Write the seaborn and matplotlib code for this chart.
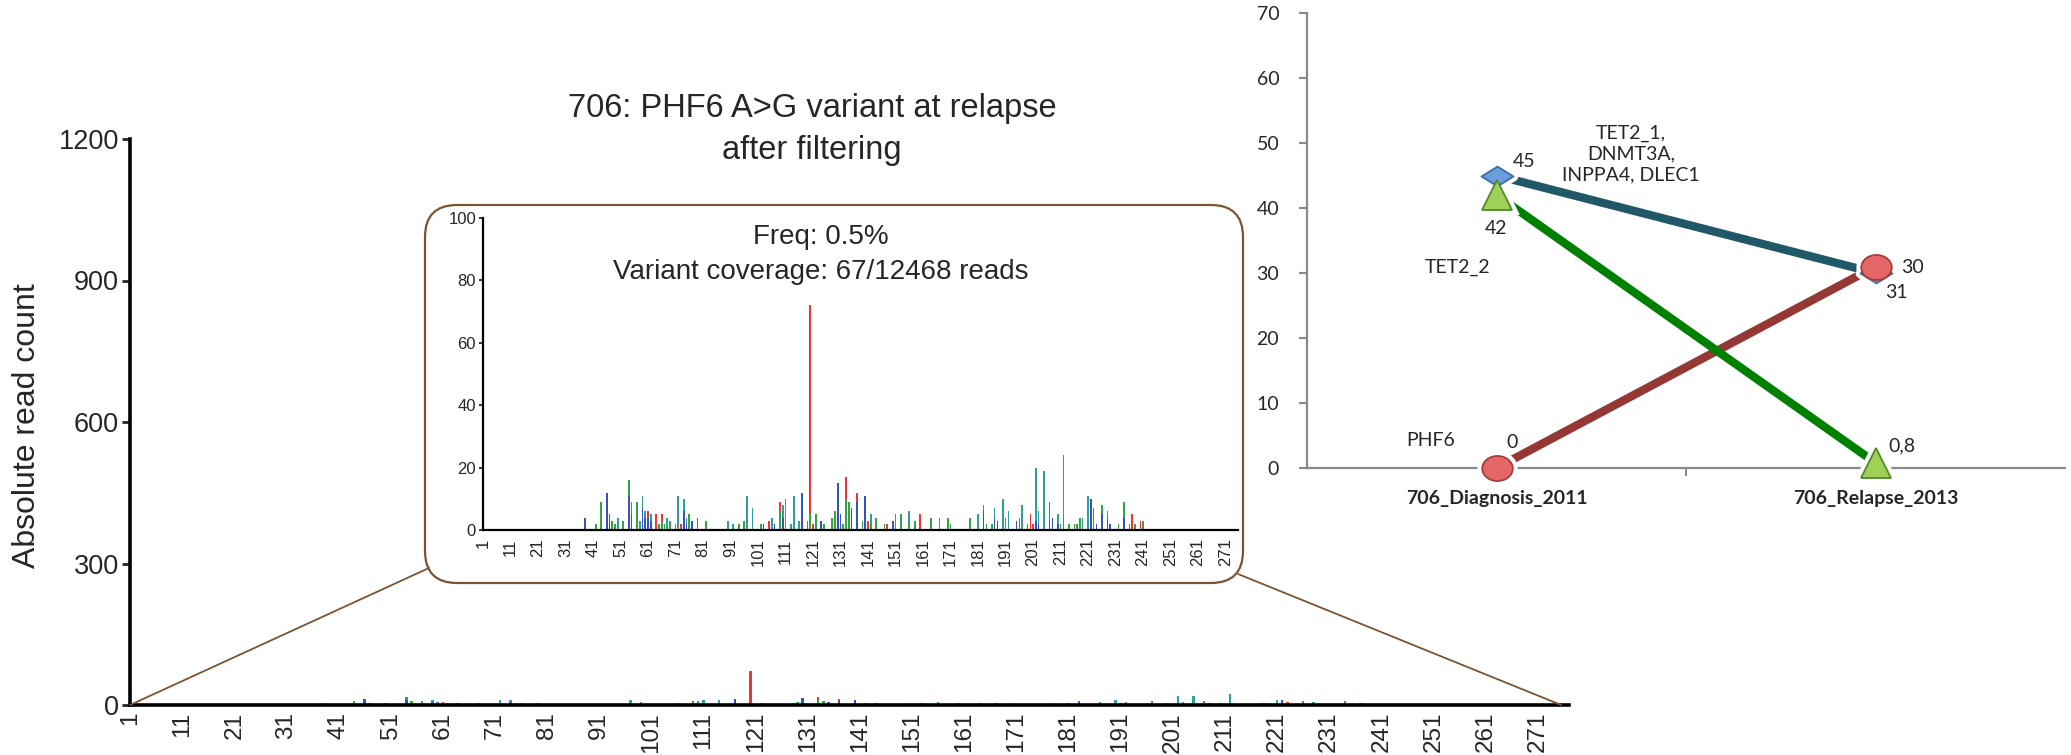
import numpy as np
import pandas as pd
import matplotlib
matplotlib.use("Agg")
import matplotlib.pyplot as plt
import seaborn as sns
from matplotlib.patches import FancyBboxPatch, ConnectionPatch
from matplotlib.path import Path
from matplotlib.transforms import Affine2D

# ---------------------------------------------------------------- data
# Per-base read counts along the PHF6 amplicon (after filtering)
pos_A = [42, 44, 48, 49, 52, 54, 55, 57, 65, 66, 67, 69, 76, 82, 94, 96, 102, 109, 120, 122,
         125, 128, 129, 132, 133, 134, 139, 142, 144, 147, 153, 156, 158, 164, 167, 170, 171,
         178, 183, 184, 186, 191, 196, 207, 211, 212, 214, 216, 217, 218, 223, 226, 232, 234,
         236, 238, 241]
cnt_A = [2, 9, 3, 2, 3, 5, 4, 9, 2, 3, 2, 3, 5, 3, 2, 3, 2, 6, 5, 5,
         2, 4, 6, 2, 10, 9, 3, 2, 4, 2, 5, 2, 3, 4, 4, 4, 2,
         4, 2, 2, 2, 4, 4, 3, 2, 5, 2, 2, 2, 4, 3, 3, 2, 5,
         2, 2, 3]

pos_C = [38, 46, 47, 54, 55, 59, 60, 61, 62, 74, 75, 77, 103, 107, 110, 117, 124, 130, 131,
         135, 137, 140, 150, 183, 187, 188, 195, 202, 203, 207, 208, 210, 222, 224, 226, 228,
         229, 234]
cnt_C = [4, 12, 5, 11, 5, 7, 4, 4, 3, 6, 2, 3, 2, 2, 4, 12, 3, 15, 5,
         7, 9, 11, 3, 6, 4, 3, 3, 3, 2, 3, 4, 2, 10, 2, 5, 4,
         2, 4]

pos_G = [61, 64, 66, 73, 79, 105, 109, 119, 120, 121, 133, 137, 141, 148, 160, 199, 200, 201,
         207, 223, 237, 240]
cnt_G = [2, 5, 2, 2, 4, 3, 3, 3, 67, 2, 7, 3, 3, 2, 5, 2, 5, 2,
         3, 4, 5, 3]

pos_T = [50, 58, 59, 60, 62, 68, 71, 72, 74, 75, 90, 92, 97, 99, 106, 110, 111, 113, 114, 116,
         142, 151, 156, 181, 187, 190, 192, 197, 202, 203, 205, 210, 212, 219, 221, 228]
cnt_T = [4, 3, 4, 2, 2, 4, 2, 11, 4, 2, 3, 2, 11, 7, 4, 4, 10, 2, 11, 3,
         3, 5, 4, 5, 3, 10, 6, 8, 17, 4, 19, 3, 19, 4, 11, 2]

position_ticks = list(range(1, 272, 10))
main_yticks = [0, 300, 600, 900, 1200]
inset_yticks = [0, 20, 40, 60, 80, 100]

# Clonal VAF (%) at diagnosis and relapse
timepoints = ["706_Diagnosis_2011", "706_Relapse_2013"]
vaf_tet2_1 = [45, 30]      # TET2_1, DNMT3A, INPPA4, DLEC1
vaf_tet2_2 = [42, 0.8]
vaf_phf6 = [0, 31]
vaf_labels_tet2_1 = ["45", "30"]
vaf_labels_tet2_2 = ["42", "0,8"]
vaf_labels_phf6 = ["0", "31"]
vaf_yticks = list(range(0, 71, 10))

# ---------------------------------------------------------------- style
sns.set_style("ticks")
plt.rcParams["font.family"] = ["Liberation Sans", "DejaVu Sans"]

base_colors = {"A": "#35a345", "C": "#3553c0", "G": "#f03535", "T": "#2f9f9b"}
stack_order = ["G", "T", "A", "C"]   # last level sits at the bottom of the stack

reads = pd.concat([
    pd.DataFrame({"position": pos_A, "reads": cnt_A, "base": "A"}),
    pd.DataFrame({"position": pos_C, "reads": cnt_C, "base": "C"}),
    pd.DataFrame({"position": pos_G, "reads": cnt_G, "base": "G"}),
    pd.DataFrame({"position": pos_T, "reads": cnt_T, "base": "T"}),
], ignore_index=True)

W, H = 2071, 755
fig = plt.figure(figsize=(W / 100, H / 100), dpi=100)
fig.patch.set_facecolor("white")


def px_rect(x0, y0, x1, y1):
    """Pixel box (top-left origin) -> figure-fraction rect."""
    return [x0 / W, 1 - y1 / H, (x1 - x0) / W, (y1 - y0) / H]


def coverage_bars(ax, shrink):
    sns.histplot(data=reads, x="position", weights="reads", hue="base",
                 hue_order=stack_order, palette=base_colors, multiple="stack",
                 discrete=True, shrink=shrink, alpha=1, linewidth=0,
                 legend=False, ax=ax)
    ax.set_xlabel("")
    ax.set_ylabel("")


# ---------------------------------------------------------------- main panel
ax = fig.add_axes(px_rect(130, 139, 1569, 705))
coverage_bars(ax, 0.45)
ax.set_xlim(1, 277)
ax.set_ylim(0, 1200)
ax.set_facecolor("none")
sns.despine(ax=ax)
for s in ("left", "bottom"):
    ax.spines[s].set_linewidth(2.6)
    ax.spines[s].set_color("black")
ax.set_xticks(position_ticks)
ax.set_xticklabels([str(p) for p in position_ticks], rotation=90, fontsize=17.5)
ax.set_yticks(main_yticks)
ax.set_yticklabels([str(v) for v in main_yticks], fontsize=19.5)
ax.tick_params(axis="x", length=0, pad=5)
ax.tick_params(axis="y", length=6, width=2, pad=2)
ax.set_ylabel("Absolute read count", fontsize=23)
ax.yaxis.set_label_coords(-0.061, 0.493)

# ---------------------------------------------------------------- zoom box
overlay = fig.add_axes([0, 0, 1, 1])
overlay.set_xlim(0, W)
overlay.set_ylim(H, 0)
overlay.axis("off")
box_x0, box_y0, box_x1, box_y1 = 425, 205, 1243, 583
overlay.add_patch(FancyBboxPatch((box_x0, box_y0), box_x1 - box_x0, box_y1 - box_y0,
                                 boxstyle="round,pad=0,rounding_size=32",
                                 facecolor="white", edgecolor="#7a5433", linewidth=1.6))

inset = fig.add_axes(px_rect(483, 218, 1238, 530))
coverage_bars(inset, 0.6)
inset_xmax = 275.5
inset.set_xlim(1, inset_xmax)
inset.set_ylim(0, 100)
inset.set_facecolor("none")
sns.despine(ax=inset)
for s in ("left", "bottom"):
    inset.spines[s].set_linewidth(1.6)
    inset.spines[s].set_color("black")
inset.set_xticks(position_ticks)
inset.set_xticklabels([str(p) for p in position_ticks], rotation=90, fontsize=12)
inset.set_yticks(inset_yticks)
inset.set_yticklabels([str(v) for v in inset_yticks], fontsize=12)
inset.tick_params(axis="x", length=0, pad=6)
inset.tick_params(axis="y", length=3, width=1.3, pad=2)

# zoom connectors from the main baseline to the box corners
for xa, xyb in ((1, (429, 568)), (inset_xmax, (1238, 574))):
    con = ConnectionPatch(xyA=(xa, 0), coordsA=ax.transData,
                          xyB=xyb, coordsB=overlay.transData,
                          color="#7a5433", linewidth=1.3)
    fig.add_artist(con)

fig.text(812 / W, 1 - 108 / H, "706: PHF6 A>G variant at relapse",
         ha="center", va="center", fontsize=23.5)
fig.text(812 / W, 1 - 150 / H, "after filtering", ha="center", va="center", fontsize=23.5)
fig.text(821 / W, 1 - 237 / H, "Freq: 0.5%", ha="center", va="center", fontsize=20)
fig.text(821 / W, 1 - 272 / H, "Variant coverage: 67/12468 reads",
         ha="center", va="center", fontsize=20)

# ---------------------------------------------------------------- clonal VAF panel
cal = ["Lato", "DejaVu Sans"]
axr = fig.add_axes(px_rect(1307, 13, 2065, 468))
axr.set_facecolor("none")

clones = pd.DataFrame({
    "timepoint": [0, 1] * 3,
    "vaf": vaf_phf6 + vaf_tet2_1 + vaf_tet2_2,
    "clone": ["PHF6"] * 2 + ["TET2_1"] * 2 + ["TET2_2"] * 2,
})
line_colors = {"PHF6": "#953735", "TET2_1": "#215868", "TET2_2": "#008000"}
sns.lineplot(data=clones, x="timepoint", y="vaf", hue="clone",
             hue_order=["PHF6", "TET2_1", "TET2_2"], palette=line_colors,
             linewidth=6, legend=False, ax=axr, zorder=2)
axr.set_xlabel("")
axr.set_ylabel("")

diamond = Path([(-1, 0), (0, 0.62), (1, 0), (0, -0.62), (-1, 0)],
               [Path.MOVETO, Path.LINETO, Path.LINETO, Path.LINETO, Path.CLOSEPOLY])
ellipse = Path.unit_circle().transformed(Affine2D().scale(1.0, 0.82))

marker_specs = [
    (vaf_tet2_1, diamond, 23, "#6b9fdb", "#3c6ea6"),
    (vaf_tet2_2, "^", 21, "#9fd158", "#4f8a2b"),
    (vaf_phf6, ellipse, 22, "#e56666", "#a83b3b"),
]
for vals, mk, ms, fc, ec in marker_specs:
    axr.plot([0, 1], vals, ls="none", marker=mk, ms=ms, mfc="white", mec="white",
             mew=7, clip_on=False, zorder=4)
    axr.plot([0, 1], vals, ls="none", marker=mk, ms=ms, mfc=fc, mec=ec,
             mew=1.3, clip_on=False, zorder=5)

value_offsets = [
    (vaf_tet2_1, vaf_labels_tet2_1, [(20, 10), (27, 4)]),
    (vaf_tet2_2, vaf_labels_tet2_2, [(0, -24), (19, 12)]),
    (vaf_phf6, vaf_labels_phf6, [(11, 18), (15, -19)]),
]
for vals, labs, offs in value_offsets:
    for i in range(2):
        axr.annotate(labs[i], xy=(i, vals[i]), xytext=offs[i], textcoords="offset points",
                     ha="center", va="center", fontsize=14, family=cal, zorder=6,
                     annotation_clip=False)

axr.set_xlim(-0.5, 1.5)
axr.set_ylim(0, 70)
sns.despine(ax=axr)
for s in ("left", "bottom"):
    axr.spines[s].set_color("#8a8a8a")
    axr.spines[s].set_linewidth(1.6)
    axr.spines[s].set_zorder(1)
axr.set_yticks(vaf_yticks)
axr.set_yticklabels([str(v) for v in vaf_yticks], fontsize=14, family=cal)
axr.tick_params(axis="y", length=6, width=1.5, color="#8a8a8a", pad=14)
axr.set_xticks([0.5])
axr.set_xticklabels([""])
axr.tick_params(axis="x", which="major", length=6, width=1.5, color="#8a8a8a")
axr.set_xticks([0, 1], minor=True)
axr.set_xticklabels(timepoints, minor=True, fontsize=14, fontweight="bold", family=cal)
axr.tick_params(axis="x", which="minor", length=0, pad=16)

fig.text(1631 / W, 1 - 154 / H, "TET2_1,\nDNMT3A,\nINPPA4, DLEC1", ha="center",
         va="center", fontsize=14, family=cal, linespacing=1.25)
fig.text(1458 / W, 1 - 267 / H, "TET2_2", ha="center", va="center", fontsize=14, family=cal)
fig.text(1431 / W, 1 - 441 / H, "PHF6", ha="center", va="center", fontsize=14, family=cal)

fig.savefig("out.png", dpi=100, facecolor="white")
